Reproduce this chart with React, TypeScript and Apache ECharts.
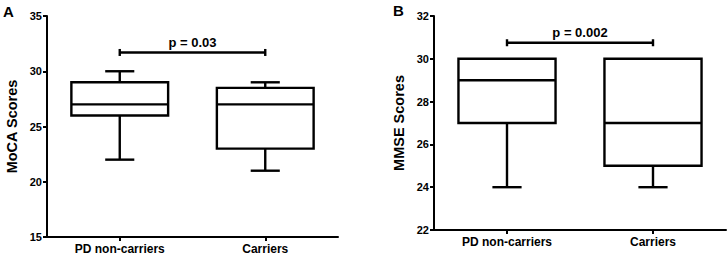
import React, { useEffect, useRef } from "react";
import * as echarts from "echarts";

const categories = ["PD non-carriers", "Carriers"];
// [min, Q1, median, Q3, max]
const mocaStats = [
  [22, 26, 27, 29, 30],
  [21, 23, 27, 28.5, 29],
];
const mmseStats = [
  [24, 27, 29, 30, 30],
  [24, 25, 27, 30, 30],
];
const pLabels = ["p = 0.03", "p = 0.002"];
const bracketLevels = [31.7, 30.75];
const yTitles = ["MoCA Scores", "MMSE Scores"];
const panelLetters = ["A", "B"];

const FONT = "'Liberation Sans', Arial, sans-serif";

function renderBox(params: any, api: any) {
  const x = api.value(0);
  const mn = api.value(1);
  const q1 = api.value(2);
  const md = api.value(3);
  const q3 = api.value(4);
  const mx = api.value(5);
  const band = api.size([1, 0])[0];
  const bw = band * 0.665;
  const cw = band * 0.2;
  const c = api.coord([x, md]);
  const cx = c[0];
  const yMin = api.coord([x, mn])[1];
  const yQ1 = api.coord([x, q1])[1];
  const yMd = c[1];
  const yQ3 = api.coord([x, q3])[1];
  const yMax = api.coord([x, mx])[1];
  const ls = { stroke: "#000", lineWidth: 2.4, fill: "none" };
  const children: any[] = [
    { type: "rect", shape: { x: cx - bw / 2, y: yQ3, width: bw, height: yQ1 - yQ3 }, style: { ...ls, fill: "#fff" } },
    { type: "line", shape: { x1: cx - bw / 2, y1: yMd, x2: cx + bw / 2, y2: yMd }, style: ls },
  ];
  if (yMax < yQ3 - 0.5) {
    children.push({ type: "line", shape: { x1: cx, y1: yQ3, x2: cx, y2: yMax }, style: ls });
    children.push({ type: "line", shape: { x1: cx - cw / 2, y1: yMax, x2: cx + cw / 2, y2: yMax }, style: ls });
  }
  if (yMin > yQ1 + 0.5) {
    children.push({ type: "line", shape: { x1: cx, y1: yQ1, x2: cx, y2: yMin }, style: ls });
    children.push({ type: "line", shape: { x1: cx - cw / 2, y1: yMin, x2: cx + cw / 2, y2: yMin }, style: ls });
  }
  return { type: "group", children };
}

function makeBracket(label: string) {
  return function (params: any, api: any) {
    const y = api.value(2);
    const p1 = api.coord([api.value(0), y]);
    const p2 = api.coord([api.value(1), y]);
    const ls = { stroke: "#000", lineWidth: 2.4 };
    return {
      type: "group",
      children: [
        { type: "line", shape: { x1: p1[0], y1: p1[1], x2: p2[0], y2: p2[1] }, style: ls },
        { type: "line", shape: { x1: p1[0], y1: p1[1] - 3.5, x2: p1[0], y2: p1[1] + 3.5 }, style: ls },
        { type: "line", shape: { x1: p2[0], y1: p2[1] - 3.5, x2: p2[0], y2: p2[1] + 3.5 }, style: ls },
        {
          type: "text",
          x: (p1[0] + p2[0]) / 2,
          y: p1[1] - 10,
          style: {
            text: label,
            fill: "#000",
            font: `bold 13px ${FONT}`,
            align: "center",
            verticalAlign: "middle",
          },
        },
      ],
    };
  };
}

export default function App() {
  const ref = useRef<HTMLDivElement>(null);
  useEffect(() => {
    if (!ref.current) return;
    const chart = echarts.init(ref.current, null, { renderer: "svg" });
    const axisLine = { show: true, lineStyle: { color: "#000", width: 2 } };
    const axisTick = { show: true, length: 4, lineStyle: { color: "#000", width: 2 } };
    const grids = [
      { left: 47, top: 16, width: 291, height: 221 },
      { left: 434, top: 16, width: 292, height: 214 },
    ];
    const yRanges = [
      { min: 15, max: 35, interval: 5 },
      { min: 22, max: 32, interval: 2 },
    ];
    const statsList = [mocaStats, mmseStats];
    const option: any = {
      animation: false,
      backgroundColor: "#fff",
      textStyle: { fontFamily: FONT },
      grid: grids,
      xAxis: grids.map((_, i) => ({
        type: "category",
        gridIndex: i,
        data: categories,
        boundaryGap: true,
        axisLine,
        axisTick: { ...axisTick, alignWithLabel: true },
        axisLabel: { color: "#000", fontWeight: "bold", fontSize: 12, margin: 6, fontFamily: FONT },
        splitLine: { show: false },
      })),
      yAxis: grids.map((_, i) => ({
        type: "value",
        gridIndex: i,
        ...yRanges[i],
        name: yTitles[i],
        nameLocation: "middle",
        nameGap: 28,
        nameTextStyle: { color: "#000", fontWeight: "bold", fontSize: 14.5, fontFamily: FONT },
        axisLine,
        axisTick,
        axisLabel: { color: "#000", fontWeight: "bold", fontSize: 11, margin: 5, fontFamily: FONT },
        splitLine: { show: false },
      })),
      series: [
        ...statsList.map((stats, i) => ({
          type: "custom",
          xAxisIndex: i,
          yAxisIndex: i,
          renderItem: renderBox,
          encode: { x: 0, y: [1, 2, 3, 4, 5] },
          data: stats.map((s, k) => [k, ...s]),
          z: 5,
        })),
        ...pLabels.map((lab, i) => ({
          type: "custom",
          xAxisIndex: i,
          yAxisIndex: i,
          renderItem: makeBracket(lab),
          encode: { x: [0, 1], y: 2 },
          data: [[0, 1, bracketLevels[i]]],
          z: 6,
        })),
      ],
      graphic: [
        { type: "text", left: 3, top: 4, style: { text: panelLetters[0], fill: "#000", font: `bold 15px ${FONT}` } },
        { type: "text", left: 393, top: 3, style: { text: panelLetters[1], fill: "#000", font: `bold 15px ${FONT}` } },
      ],
    };
    chart.setOption(option);
    return () => chart.dispose();
  }, []);
  return (
    <div
      ref={ref}
      style={{ position: "absolute", left: 0, top: 0, width: 728, height: 255, background: "#fff" }}
    />
  );
}
